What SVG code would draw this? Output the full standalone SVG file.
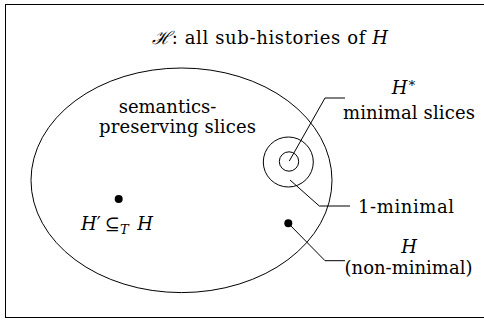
<svg xmlns="http://www.w3.org/2000/svg" width="484" height="320" viewBox="0 0 484 320">
<style>
.ln{fill:none;stroke:#000;stroke-width:1}
text{font-family:'DejaVu Serif','Liberation Serif',serif;font-size:18px;fill:#000;text-anchor:middle}
.i{font-style:italic}
</style>
<rect width="484" height="320" fill="#fff"/>
<g id="frame"><rect class="ln" x="5.5" y="4.5" width="490" height="313" stroke-width="1.3"/></g>
<g id="title"><text x="270" y="44" textLength="236" lengthAdjust="spacing"><tspan class="i">ℋ</tspan>: all sub-histories of <tspan class="i">H</tspan></text></g>
<g id="semantics-preserving">
<ellipse class="ln" cx="181.5" cy="180.3" rx="150.5" ry="112.3"/>
<text x="167.5" y="113" font-size="19">semantics-</text>
<text x="177.5" y="133" textLength="157" lengthAdjust="spacing">preserving slices</text>
</g>
<g id="one-minimal"><circle class="ln" cx="288.3" cy="162" r="25"/></g>
<g id="minimal"><circle class="ln" cx="289" cy="161.5" r="9.7"/></g>
<g id="h-prime">
<circle cx="118.7" cy="199" r="4"/>
<text x="117" y="230"><tspan class="i">H</tspan>′<tspan dx="4">⊆</tspan><tspan class="i" font-size="13" dy="4">T</tspan><tspan dy="-4" dx="3"> </tspan><tspan class="i">H</tspan></text>
</g>
<g id="h-node"><circle cx="288.3" cy="223.3" r="4"/></g>
<g id="labels">
<text x="404" y="94"><tspan class="i">H</tspan><tspan font-size="13" dy="-7">∗</tspan></text>
<text x="409" y="119" textLength="132" lengthAdjust="spacing">minimal slices</text>
<text x="406" y="213" textLength="96" lengthAdjust="spacing">1-minimal</text>
<text class="i" x="409" y="253">H</text>
<text x="408.5" y="274">(non-minimal)</text>
</g>
<g id="connectors">
<polyline class="ln" points="289.3,161 325,98 345,98"/>
<polyline class="ln" points="290,180 319.3,206 350,206"/>
<polyline class="ln" points="288.3,223.3 325,260.7 345,260.7"/>
</g>
</svg>
